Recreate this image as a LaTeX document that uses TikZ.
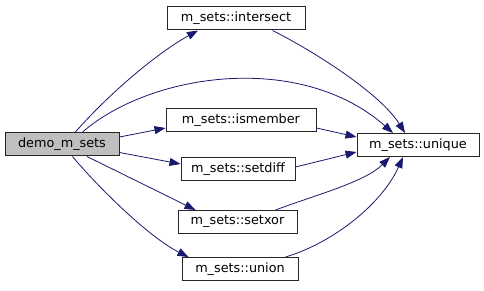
\documentclass[tikz,border=0pt]{standalone}
\usepackage{fontspec}
\setmainfont{DejaVu Sans}
\usetikzlibrary{arrows.meta}
\definecolor{edgeblue}{HTML}{191970}
\definecolor{rootgray}{HTML}{BFBFBF}

\begin{document}
\begin{tikzpicture}[x=1pt,y=1pt,
                fn/.style={draw=black!85,line width=1pt,fill=white,minimum height=23pt,
                    inner sep=0pt,font=\fontsize{12.8}{14}\selectfont},
                call/.style={draw=edgeblue,line width=0.8pt,
                    -{Triangle[length=11pt,width=8pt]},fill=none}]
                \useasboundingbox (0,0) rectangle (484,291);

                \node[fn,fill=rootgray,minimum width=114pt] (demo) at (62,146.5) {demo\_m\_sets};
                \node[fn,minimum width=138pt] (intersect) at (236,272.5) {m\_sets::intersect};
                \node[fn,minimum width=150pt] (ismember) at (241,171) {m\_sets::ismember};
                \node[fn,minimum width=114pt] (setdiff) at (238,122) {m\_sets::setdiff};
                \node[fn,minimum width=119pt] (setxor) at (237.5,69) {m\_sets::setxor};
                \node[fn,minimum width=116pt] (union) at (240,22) {m\_sets::union};
                \node[fn,minimum width=122pt] (unique) at (418,146) {m\_sets::unique};

                \draw[call] ([xshift=13pt]demo.north) .. controls +(35,40) and +(-40,-22) .. ([xshift=-38pt]intersect.south);
                \draw[call] ([xshift=20pt]demo.north) .. controls +(68,59.5) and +(-93,82) .. ([xshift=-25pt]unique.north);
                \draw[call] ([yshift=7.5pt]demo.east) -- ([yshift=-8pt]ismember.west);
                \draw[call] ([yshift=-8pt]demo.east) -- ([yshift=5pt]setdiff.west);
                \draw[call] ([xshift=25pt]demo.south) -- ([xshift=18pt]setxor.north west);
                \draw[call] ([xshift=10.5pt]demo.south) .. controls +(25,-30) and +(-40,20) .. ([xshift=7pt]union.north west);

                \draw[call] ([xshift=-33pt]intersect.south east) .. controls +(40,-20) and +(-25,40) .. ([xshift=-13pt]unique.north);
                \draw[call] ([yshift=-8pt]ismember.east) -- ([yshift=8pt]unique.west);
                \draw[call] ([yshift=2pt]setdiff.east) -- ([yshift=-7pt]unique.west);
                \draw[call] ([xshift=-22pt]setxor.north east) .. controls +(40,15) and +(-25,-25) .. ([xshift=-28pt]unique.south);
                \draw[call] ([xshift=-13pt]union.north east) .. controls +(50,15) and +(-20,-45) .. ([xshift=-15pt]unique.south);

            \end{tikzpicture}
\end{document}
